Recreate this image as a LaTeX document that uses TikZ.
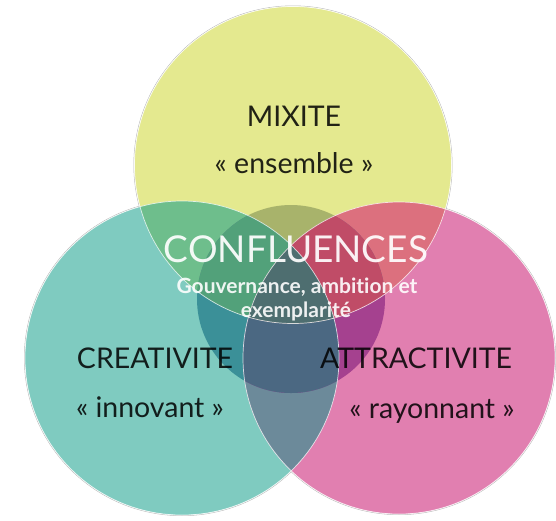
\documentclass[tikz,border=0pt]{standalone}
\usepackage{fontspec}
\setmainfont[Ligatures=NoCommon]{Lato}
\definecolor{cY}{HTML}{E4E98F}
\definecolor{cT}{HTML}{7FCBC0}
\definecolor{cP}{HTML}{E17FB0}
\definecolor{cTL}{HTML}{6EBE8C}
\definecolor{cTR}{HTML}{DC707E}
\definecolor{cLR}{HTML}{6C8A9A}
\definecolor{cTLR}{HTML}{4E6E70}
\definecolor{iY}{HTML}{A8B36B}
\definecolor{iT}{HTML}{3B9098}
\definecolor{iP}{HTML}{A5418F}
\definecolor{iTL}{HTML}{52A17A}
\definecolor{iTR}{HTML}{C04C67}
\definecolor{iLR}{HTML}{4B6882}
\definecolor{iTLR}{HTML}{4E6E70}
\begin{document}
\begin{tikzpicture}[x=1pt,y=-1pt,
  lbl/.style={inner sep=0pt, anchor=base, text=black, text opacity=0.85, font=\fontsize{28.5}{31}\selectfont},
  big/.style={inner sep=0pt, anchor=base, text=white, text opacity=0.92, font=\fontsize{37}{40}\selectfont},
  sub/.style={inner sep=0pt, anchor=base, text=white, text opacity=0.9, font=\fontsize{21}{24}\selectfont\bfseries},
  rim/.style={draw=gray!55, line width=0.5pt},
  edge/.style={draw=white, line width=0.7pt, draw opacity=0.75}]
\useasboundingbox (0,0) rectangle (556,520);
\def\Tc{293,165}\def\Tr{158.5}
\def\Lc{182,358}\def\Lr{157}
\def\Rc{399,358}\def\Rr{156}
\def\Cc{291,299}\def\Cr{94}
% outer rims
\path[rim] (\Tc) circle [radius=\Tr+0.7];
\path[rim] (\Lc) circle [radius=\Lr+0.7];
\path[rim] (\Rc) circle [radius=\Rr+0.7];
% single fills
\fill[cY] (\Tc) circle [radius=\Tr];
\fill[cT] (\Lc) circle [radius=\Lr];
\fill[cP] (\Rc) circle [radius=\Rr];
% pair overlaps
\begin{scope}
  \clip (\Lc) circle [radius=\Lr];
  \fill[cLR] (\Rc) circle [radius=\Rr];
\end{scope}
\begin{scope}
  \clip (\Tc) circle [radius=\Tr];
  \fill[cTL] (\Lc) circle [radius=\Lr];
  \fill[cTR] (\Rc) circle [radius=\Rr];
  \clip (\Lc) circle [radius=\Lr];
  \fill[cTLR] (\Rc) circle [radius=\Rr];
\end{scope}
% central circle
\begin{scope}
  \clip (\Cc) circle [radius=\Cr];
  \fill[iY] (\Tc) circle [radius=\Tr];
  \fill[iT] (\Lc) circle [radius=\Lr];
  \fill[iP] (\Rc) circle [radius=\Rr];
  \begin{scope}
    \clip (\Lc) circle [radius=\Lr];
    \fill[iLR] (\Rc) circle [radius=\Rr];
  \end{scope}
  \begin{scope}
    \clip (\Tc) circle [radius=\Tr];
    \fill[iTL] (\Lc) circle [radius=\Lr];
    \fill[iTR] (\Rc) circle [radius=\Rr];
    \clip (\Lc) circle [radius=\Lr];
    \fill[iTLR] (\Rc) circle [radius=\Rr];
  \end{scope}
\end{scope}
% edges
\path[edge] (\Tc) circle [radius=\Tr];
\path[edge] (\Lc) circle [radius=\Lr];
\path[edge] (\Rc) circle [radius=\Rr];
% texts
\node[lbl] (mix) at (294,126) {MIXITE};
\node[lbl] (ens) at (294,173) {« ensemble »};
\node[big] (conf) at (296,262) {CONFLUENCES};
\node[sub] (gouv) at (297,293) {Gouvernance, ambition et};
\node[sub] (exem) at (296,317) {exemplarité};
\node[lbl] (crea) at (155,368) {CREATIVITE};
\node[lbl] (inno) at (150,417) {« innovant »};
\node[lbl] (attr) at (416,368) {ATTRACTIVITE};
\node[lbl] (rayo) at (432,418) {« rayonnant »};
\end{tikzpicture}
\end{document}
